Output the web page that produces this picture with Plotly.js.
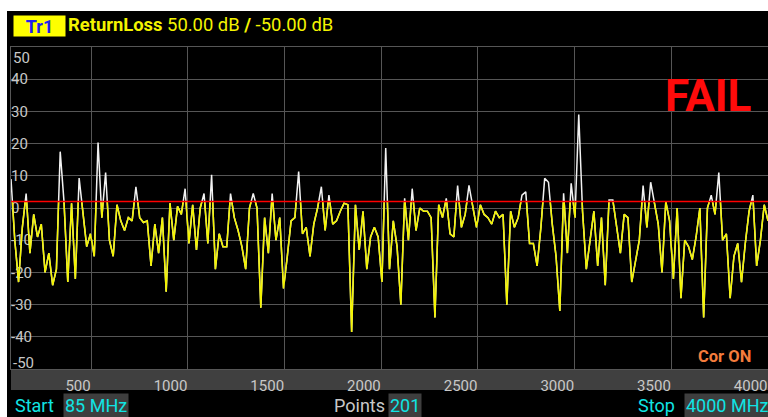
<!DOCTYPE html>
<html>
<head>
<meta charset="utf-8">
<script src="https://cdn.plot.ly/plotly-3.0.1.min.js"></script>
<style>html,body{margin:0;padding:0;background:#fff;}#chart{width:768px;height:417px;}</style>
</head>
<body>
<div id="chart"></div>
<script>
// ---- data ----
const START_MHZ = 85;
const STOP_MHZ = 4000;
const POINTS = 201;
const LIMIT_DB = 2;
const SCALE_TOP = 50;
const SCALE_BOTTOM = -50;
const RETURN_LOSS = [
  9, -10, -23, -6, 4.5, -14, -2, -9, -5, -20,
  -14, -24, -19, 17.5, 2, -23, 1.5, -22, 9.3, -1,
  -12, -8, -15, 20.3, -3, 11, -10, -15, 1, -4,
  -7, -3, -4, 6.6, -3, -4.5, -4, -18, -5, -14,
  -3, -26, 1.5, -10, 0.5, -2, 6, -11, 1, -13,
  0, 4.5, -11, 10.3, -19, -8, -12, -12, 4.5, -3,
  -7, -12, -19, 0, 4.5, 0, -31, -3, -14, 4.5,
  -10, -3, -25, -15, -4, -3, 11.3, -8, -6, -15,
  -5, 0, 6.6, -7, 4, -5, -4, -1, 1.5, 1,
  -38.5, 1, -13, -1, -19, -9, -6, -9, -23, 18.6,
  -19, -4, -12, -30, 3, -10, 6, -7, 0, -1,
  -1, -3, -34, 1, -3, 3, -8, -9, 7, -6,
  -2, 7, 0, -6, 1, -2, -3, -5, -1, -3,
  -2, -30, -1, -6, -3, 4, 5, -11, -11, -18,
  -6, 9.2, 8, -5, -15, -32, 4.6, -14, 7.7, -3,
  29, -1, -19, -10, -1, -18, -3, -24, 2.5, 2.5,
  -6, -14, -2, -3, -23, -17, -10, 7, -6, 8,
  2, -5, -20, 2, -4, -22, 0, -28, -10, -12,
  -16, -9, 0, -34, 0, 4, -2, 11, -10, -8,
  -28, -15, -11, -23, -11, -1, 4, -18, -10, 1,
  -4
];
const X_TICKS = [500, 1000, 1500, 2000, 2500, 3000, 3500, 4000];
const X_TICK_LABELS = ['500', '1000', '1500', '2000', '2500', '3000', '3500', '4000'];
const Y_TICKS = [-50, -40, -30, -20, -10, 0, 10, 20, 30, 40, 50];
const Y_TICK_LABELS = ['-50', '-40', '-30', '-20', '-10', '0', '10', '20', '30', '40', '50'];
const TRACE_NAME = 'Tr1';
const MEASUREMENT = 'ReturnLoss';
const STATUS = 'FAIL';
const CORRECTION = 'Cor ON';

// sweep grid (Start / Stop / Points)
const FREQ = RETURN_LOSS.map((_, i) => START_MHZ + i * (STOP_MHZ - START_MHZ) / (POINTS - 1));

// ---- layout helpers (pixel -> paper) ----
const W = 768, H = 417, ML = 11, MR = 0, MT = 47, MB = 48;
const PW = W - ML - MR, PH = H - MT - MB;
const px = v => (v - ML) / PW;
const py = v => (H - MB - v) / PH;

const FONT = 'Roboto, "Noto Sans", sans-serif';
const GRID = '#565656';
const LABEL = '#c8c8c8';
const CYAN = '#10e4e4';
const YELLOW = '#f4f400';
const BOX = '#3e3e3e';

const white = {
  x: FREQ, y: RETURN_LOSS, type: 'scatter', mode: 'lines',
  xaxis: 'x', yaxis: 'y',
  line: { color: '#f2f2f2', width: 1.5 }, hoverinfo: 'skip', showlegend: false
};
const yellow = {
  x: FREQ, y: RETURN_LOSS, type: 'scatter', mode: 'lines',
  xaxis: 'x', yaxis: 'y2',
  line: { color: YELLOW, width: 1.5 }, hoverinfo: 'skip', showlegend: false
};

const yLabelsAxis = Y_TICK_LABELS.map((t, i) => (Y_TICKS[i] === SCALE_TOP || Y_TICKS[i] === SCALE_BOTTOM) ? '' : t);

const ann = [];
// end y labels (kept inside the plot)
Y_TICKS.forEach((v, i) => {
  if (v === SCALE_TOP || v === SCALE_BOTTOM) {
    ann.push({
      xref: 'paper', yref: 'y', x: px(11), y: v, xanchor: 'left', yanchor: 'middle',
      yshift: v === SCALE_TOP ? -11 : 6, showarrow: false, text: Y_TICK_LABELS[i],
      font: { family: FONT, size: 15, color: LABEL }
    });
  }
});
ann.push(
  { xref: 'paper', yref: 'paper', x: px(13), y: py(15), xanchor: 'left', yanchor: 'top',
    width: 47, height: 16, borderpad: 2, bgcolor: '#ffff00', showarrow: false,
    text: '<b>' + TRACE_NAME + '</b>', font: { family: FONT, size: 18, color: '#2020f0' } },
  { xref: 'paper', yref: 'paper', x: px(66), y: py(24.5), xanchor: 'left', yanchor: 'middle',
    showarrow: false,
    text: '<b>' + MEASUREMENT + '</b> ' + SCALE_TOP.toFixed(2) + ' dB <b>/</b> ' + SCALE_BOTTOM.toFixed(2) + ' dB',
    font: { family: FONT, size: 18.4, color: YELLOW } },
  { xref: 'paper', yref: 'paper', x: px(663), y: py(96), xanchor: 'left', yanchor: 'middle',
    showarrow: false, text: '<b>' + STATUS + '</b>', font: { family: FONT, size: 44, color: '#ff0b0b' } },
  { xref: 'paper', yref: 'paper', x: px(696), y: py(356), xanchor: 'left', yanchor: 'middle',
    showarrow: false, text: '<b>' + CORRECTION + '</b>', font: { family: FONT, size: 16.5, color: '#f47c3c' } },
  { xref: 'paper', yref: 'paper', x: px(13), y: py(405), xanchor: 'left', yanchor: 'middle',
    showarrow: false, text: 'Start', font: { family: FONT, size: 18, color: CYAN } },
  { xref: 'paper', yref: 'paper', x: px(63), y: py(405.5), xanchor: 'left', yanchor: 'middle',
    showarrow: false, bgcolor: BOX, borderpad: 1, text: START_MHZ + ' MHz', font: { family: FONT, size: 18, color: CYAN } },
  { xref: 'paper', yref: 'paper', x: px(332), y: py(405), xanchor: 'left', yanchor: 'middle',
    showarrow: false, text: 'Points', font: { family: FONT, size: 18, color: LABEL } },
  { xref: 'paper', yref: 'paper', x: px(388), y: py(405.5), xanchor: 'left', yanchor: 'middle',
    showarrow: false, bgcolor: BOX, borderpad: 1, text: String(POINTS), font: { family: FONT, size: 18, color: CYAN } },
  { xref: 'paper', yref: 'paper', x: px(636), y: py(405), xanchor: 'left', yanchor: 'middle',
    showarrow: false, text: 'Stop', font: { family: FONT, size: 18, color: CYAN } },
  { xref: 'paper', yref: 'paper', x: px(684), y: py(405.5), xanchor: 'left', yanchor: 'middle',
    showarrow: false, bgcolor: BOX, borderpad: 1, text: STOP_MHZ + ' MHz', font: { family: FONT, size: 18, color: CYAN } }
);

const layout = {
  width: W, height: H,
  margin: { l: ML, r: MR, t: MT, b: MB, pad: 0 },
  paper_bgcolor: '#ffffff',
  plot_bgcolor: 'rgba(0,0,0,0)',
  showlegend: false,
  font: { family: FONT },
  xaxis: {
    range: [START_MHZ, STOP_MHZ], tickmode: 'array', tickvals: X_TICKS, ticktext: X_TICK_LABELS,
    showgrid: true, gridcolor: GRID, gridwidth: 1, zeroline: false,
    showline: true, mirror: true, linecolor: GRID, linewidth: 1,
    ticks: '', ticklabelposition: 'outside left', ticklabelstandoff: 3,
    tickfont: { family: FONT, size: 15, color: LABEL }, fixedrange: true, layer: 'below traces'
  },
  yaxis: {
    range: [SCALE_BOTTOM, SCALE_TOP], tickmode: 'array', tickvals: Y_TICKS, ticktext: yLabelsAxis,
    showgrid: true, gridcolor: GRID, gridwidth: 1, zeroline: false,
    showline: true, mirror: true, linecolor: GRID, linewidth: 1,
    ticks: '', ticklabelposition: 'inside', ticklabeloverflow: 'allow',
    tickfont: { family: FONT, size: 15, color: LABEL }, fixedrange: true, layer: 'below traces'
  },
  yaxis2: {
    domain: [0, (LIMIT_DB - SCALE_BOTTOM) / (SCALE_TOP - SCALE_BOTTOM)],
    range: [SCALE_BOTTOM, LIMIT_DB], anchor: 'x', visible: false,
    showgrid: false, zeroline: false, fixedrange: true
  },
  shapes: [
    { type: 'rect', xref: 'paper', yref: 'paper', x0: px(7), x1: px(W), y0: py(H), y1: py(11),
      fillcolor: '#000000', line: { width: 0 }, layer: 'below' },
    { type: 'rect', xref: 'paper', yref: 'paper', x0: 0, x1: 1, y0: py(390), y1: py(370),
      fillcolor: '#404040', line: { width: 0 }, layer: 'below' },
    { type: 'line', xref: 'paper', yref: 'y', x0: 0, x1: 1, y0: LIMIT_DB, y1: LIMIT_DB,
      line: { color: '#ff0000', width: 1.5 }, layer: 'above' }
  ],
  annotations: ann
};

Plotly.newPlot('chart', [white, yellow], layout, { staticPlot: true, displayModeBar: false });
</script>
</body>
</html>
